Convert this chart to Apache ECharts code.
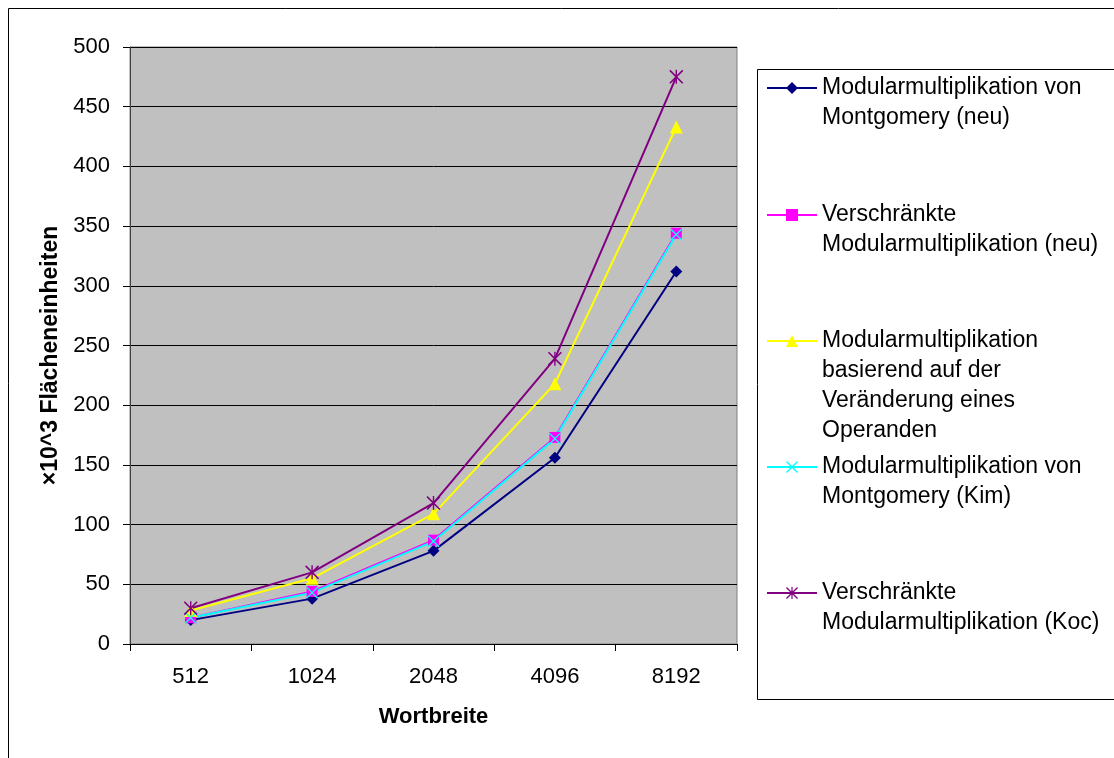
<!DOCTYPE html>
<html>
<head>
<meta charset="utf-8">
<script src="https://cdn.jsdelivr.net/npm/echarts@6/dist/echarts.min.js"></script>
<style>
  html, body { margin: 0; padding: 0; background: #fff; }
  #chart { width: 1114px; height: 758px; }
</style>
</head>
<body>
<div id="chart"></div>
<script>
// values (x10^3 area units)
const wordWidths = ['512', '1024', '2048', '4096', '8192'];
const montgomeryNew = [20, 38, 78, 156, 312];
const interleavedNew = [22, 44, 87, 173, 344];
const operandChange = [28, 55, 109, 218, 433];
const montgomeryKim = [22, 43, 86, 172, 343];
const interleavedKoc = [30, 60, 118, 239, 475];

const seriesNames = [
    'Modularmultiplikation von\nMontgomery (neu)',
    'Verschränkte\nModularmultiplikation (neu)',
    'Modularmultiplikation\nbasierend auf der\nVeränderung eines\nOperanden',
    'Modularmultiplikation von\nMontgomery (Kim)',
    'Verschränkte\nModularmultiplikation (Koc)'
];

const FONT = '"Liberation Sans", Arial, sans-serif';

// cross and asterisk markers as filled outlines
const crossPath = 'path://M0,0.8 L0.8,0 L10,9.2 L9.2,10 Z M9.2,0 L10,0.8 L0.8,10 L0,9.2 Z';
const starPath = 'path://M0,0.8 L0.8,0 L10,9.2 L9.2,10 Z M9.2,0 L10,0.8 L0.8,10 L0,9.2 Z M4.5,0 L5.5,0 L5.5,10 L4.5,10 Z';

const chart = echarts.init(document.getElementById('chart'), null, { renderer: 'canvas' });

function makeSeries(name, data, color, symbol, size) {
    return {
        name: name,
        type: 'line',
        data: data,
        symbol: symbol,
        symbolSize: size,
        color: color,
        lineStyle: { color: color, width: 2 },
        itemStyle: { color: color },
        emphasis: { disabled: true }
    };
}

// one legend per entry so each block can sit where the original has it.
// blank lines are put in front so the first real line sits level with the marker
const legendTops = [88, 215, 341, 467, 593];
const legends = seriesNames.map((name, i) => {
    const lines = name.split('\n').length;
    const total = lines * 2 - 1;
    return {
        data: [name],
        orient: 'vertical',
        left: 766,
        top: legendTops[i] - total * 30 / 2,
        padding: 0,
        itemWidth: 50,
        itemHeight: 15,
        selectedMode: false,
        formatter: n => ' \n'.repeat(lines - 1) + n,
        textStyle: {
            fontFamily: FONT,
            fontSize: 23,
            color: '#000',
            lineHeight: 30
        }
    };
});

chart.setOption({
    animation: false,
    backgroundColor: '#fff',
    graphic: [
        {
            type: 'rect',
            shape: { x: 8.5, y: 8.5, width: 1120, height: 760 },
            style: { fill: 'none', stroke: '#000', lineWidth: 1 },
            silent: true
        },
        {
            type: 'rect',
            shape: { x: 757.5, y: 69.5, width: 380, height: 630 },
            style: { fill: 'none', stroke: '#000', lineWidth: 1 },
            silent: true
        }
    ],
    legend: legends,
    grid: {
        left: 130,
        top: 47,
        right: 377,
        bottom: 114,
        containLabel: false,
        outerBoundsMode: 'none',
        show: true,
        backgroundColor: '#c0c0c0',
        borderColor: '#808080',
        borderWidth: 1
    },
    xAxis: {
        type: 'category',
        data: wordWidths,
        boundaryGap: true,
        name: 'Wortbreite',
        nameLocation: 'middle',
        nameGap: 62,
        nameTextStyle: { fontFamily: FONT, fontSize: 22, fontWeight: 'bold', color: '#000' },
        axisLine: { lineStyle: { color: '#000', width: 1 } },
        axisTick: { show: true, length: 7, inside: false, lineStyle: { color: '#000' } },
        axisLabel: { margin: 22, fontFamily: FONT, fontSize: 22, color: '#000' },
        splitLine: { show: false }
    },
    yAxis: {
        type: 'value',
        min: 0,
        max: 500,
        interval: 50,
        name: '×10^3 Flächeneinheiten',
        nameLocation: 'middle',
        nameGap: 67,
        nameRotate: 90,
        nameTextStyle: {
            fontFamily: FONT, fontSize: 23, fontWeight: 'bold', color: '#000',
            padding: [0, 20, 0, 0]
        },
        axisLine: { show: true, lineStyle: { color: '#404040', width: 1 } },
        axisTick: { show: true, length: 7, inside: false, lineStyle: { color: '#000' } },
        axisLabel: { margin: 20, fontFamily: FONT, fontSize: 22, color: '#000' },
        splitLine: { show: true, lineStyle: { color: '#000', width: 1 } }
    },
    series: [
        makeSeries(seriesNames[0], montgomeryNew, '#000080', 'diamond', 12),
        makeSeries(seriesNames[1], interleavedNew, '#ff00ff', 'rect', 11),
        makeSeries(seriesNames[2], operandChange, '#ffff00', 'triangle', 13),
        makeSeries(seriesNames[3], montgomeryKim, '#00ffff', crossPath, 12),
        makeSeries(seriesNames[4], interleavedKoc, '#800080', starPath, 14)
    ]
});

window.addEventListener('resize', () => chart.resize());
</script>
</body>
</html>
